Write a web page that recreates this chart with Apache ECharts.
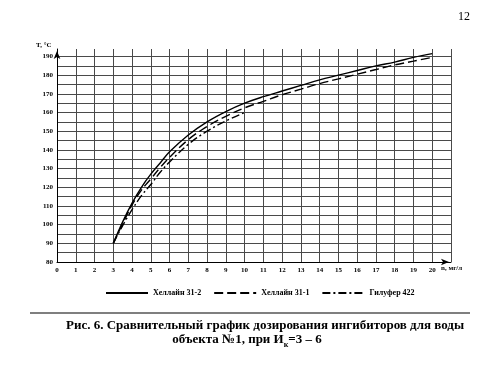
<!DOCTYPE html>
<html><head><meta charset="utf-8">
<script src="https://cdn.jsdelivr.net/npm/echarts@6/dist/echarts.min.js"></script>
<style>html,body{margin:0;background:#fff}#c{width:500px;height:378px}</style>
</head><body><div id="c"></div>
<script>
// Data
const xHellain312 = [3,3.5,4,4.5,5,5.5,6,7,8,9,10,11,12,13,14,15,16,17,18,19,20];
const yHellain312 = [90,101.5,111.5,120,127,133,139,148,155,160.5,165,168.5,171.5,174.5,177.5,180,182.5,185,187,189.5,191.5];
const xHellain311 = [3,3.5,4,4.5,5,5.5,6,7,8,9,10,11,12,13,14,15,16,17,18,19,20];
const yHellain311 = [90,100.5,110.5,118.5,124.5,130.5,136,145.5,152.5,158,162.5,166,169.5,172.5,175.5,178,180.5,183,185.5,187.5,189.5];
const xGilufer = [3,3.5,4,4.5,5,5.5,6,7,8,9,10];
const yGilufer = [90,99.5,108,115.5,121.5,128,133.5,143,150,155.5,160];
const seriesNames = ['Хеллайн 31-2','Хеллайн 31-1','Гилуфер 422'];
const xTickMax = 20;
const yLabelMax = 190;

const FF = "'Liberation Serif','Times New Roman',serif";
const pairs = (xs, ys) => xs.map((x, i) => [x, ys[i]]);

const chart = echarts.init(document.getElementById('c'), null, {renderer:'canvas'});
const lblStyle = {fontFamily: FF, fontWeight: 'bold', fontSize: 7, color: '#000'};
chart.setOption({
  animation: false,
  backgroundColor: '#fff',
  grid: {left: 57, right: 49, top: 49, bottom: 116},
  xAxis: {
    type: 'value', min: 0, max: 21, interval: 1,
    axisLine: {show: true, lineStyle: {color: '#000', width: 1}, symbol: ['none','arrow'], symbolSize: [5, 8], symbolOffset: [0, -2]},
    axisTick: {show: false},
    axisLabel: Object.assign({margin: 5, formatter: v => v > xTickMax ? '' : String(v)}, lblStyle),
    splitLine: {show: true, lineStyle: {color: '#4a4a4a', width: 1}}
  },
  yAxis: {
    type: 'value', min: 80, max: 194, interval: 5,
    axisLine: {show: true, lineStyle: {color: '#000', width: 1}, symbol: ['none','arrow'], symbolSize: [5, 8], symbolOffset: [0, -2]},
    axisTick: {show: false},
    axisLabel: Object.assign({margin: 4, formatter: v => (v % 10 === 0 && v <= yLabelMax) ? String(v) : ''}, lblStyle),
    splitLine: {show: true, showMaxLine: false, lineStyle: {color: '#4a4a4a', width: 1}}
  },
  legend: {
    left: 100, top: 284, itemWidth: 42, itemHeight: 8, itemGap: 12,
    itemStyle: {opacity: 0},
    textStyle: {fontFamily: FF, fontWeight: 'bold', fontSize: 8, color: '#000'},
    data: seriesNames
  },
  series: [
    {name: seriesNames[0], type: 'line', smooth: 0.4, symbol: 'none', data: pairs(xHellain312, yHellain312),
     lineStyle: {color: '#000', width: 1.4, type: 'solid'}, itemStyle: {color: '#000'}},
    {name: seriesNames[1], type: 'line', smooth: 0.4, symbol: 'none', data: pairs(xHellain311, yHellain311),
     lineStyle: {color: '#000', width: 1.4, type: [9, 4]}, itemStyle: {color: '#000'}},
    {name: seriesNames[2], type: 'line', smooth: 0.4, symbol: 'none', data: pairs(xGilufer, yGilufer),
     lineStyle: {color: '#000', width: 1.4, type: [8, 3, 2, 3]}, itemStyle: {color: '#000'}}
  ],
  graphic: [
    {type: 'text', left: 458, top: 11, style: {text: '12', font: "12px " + FF, fill: '#000'}},
    {type: 'text', left: 36, top: 42, style: {text: 'T, °C', font: "bold 7px " + FF, fill: '#000'}},
    {type: 'text', left: 441, top: 265, style: {text: 'n, мг/л', font: "bold 7px " + FF, fill: '#000'}},
    {type: 'line', shape: {x1: 30, y1: 313, x2: 470, y2: 313}, style: {stroke: '#000', lineWidth: 1.2}},
    {type: 'text', x: 265, y: 319, style: {text: 'Рис. 6. Сравнительный график дозирования ингибиторов для воды',
      font: "bold 13px " + FF, fill: '#000', align: 'center'}},
    {type: 'text', x: 247, y: 331, style: {
      text: '{m|объекта №1, при И}{s|к}{m|=3 – 6}',
      align: 'center',
      rich: {
        m: {fontFamily: FF, fontWeight: 'bold', fontSize: 13, lineHeight: 18, verticalAlign: 'middle', fill: '#000', color: '#000'},
        s: {fontFamily: FF, fontWeight: 'bold', fontSize: 8, lineHeight: 9, verticalAlign: 'bottom', fill: '#000', color: '#000'}
      }}}
  ]
});
</script></body></html>
